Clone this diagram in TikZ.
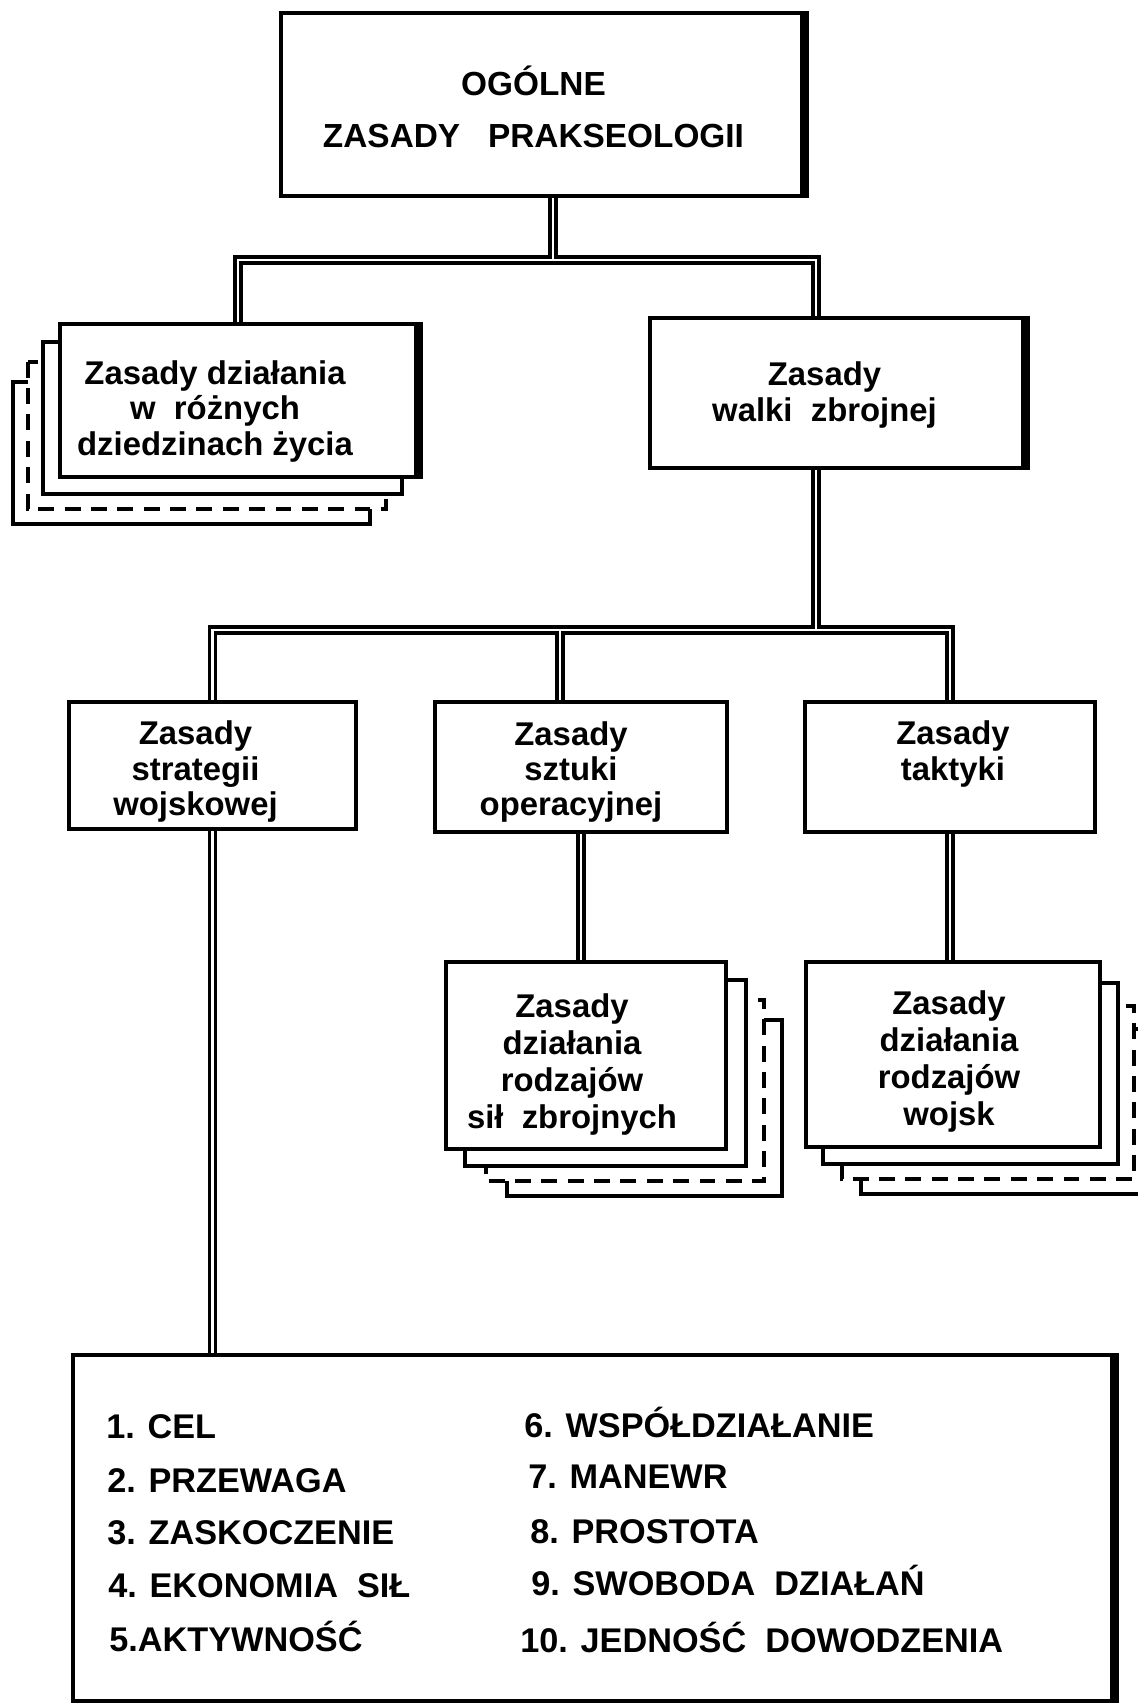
\documentclass[tikz,border=0pt]{standalone}
\usepackage{fontspec}
\setmainfont{Liberation Sans}
\usetikzlibrary{calc,positioning,backgrounds}

\tikzset{
  box/.style={draw, line width=2.6pt, fill=white, inner sep=0pt},
  txt/.style={align=center, inner sep=0pt, font=\fontsize{18.7}{20}\selectfont\bfseries},
  tall/.style={font=\fontsize{18.7}{21}\selectfont\bfseries},
  layer/.style={draw, line width=2.4pt, fill=white},
  brokenline/.style={dash pattern=on 9pt off 6pt},
  link/.style={double, line width=1.9pt, double distance=1.6pt},
  edge/.style={line width=5pt},
  item/.style={inner sep=0pt, anchor=base west, font=\fontsize{19.5}{20}\selectfont\bfseries},
}

\begin{document}
\begin{tikzpicture}[x=0.02cm,y=-0.02cm]
	\useasboundingbox (0,0) rectangle (1138,1706);
	% poziom 1
	\node[box, minimum width=10.42cm, minimum height=3.66cm] (ogolne) at (541.5,104.5) {};
	\node[txt, font=\fontsize{19}{29.6}\selectfont\bfseries] (ogolne-t) at (533.5,106.5) {OGÓLNE\\ZASADY~~~PRAKSEOLOGII};
	% poziom 2
	\node[box, minimum width=7.12cm, minimum height=3.06cm] (dzialania) at (238,400.5) {};
	\node[txt] (dzialania-t) at (215,411.5) {Zasady działania\\w~~różnych\\dziedzinach życia};
	\node[box, minimum width=7.46cm, minimum height=3cm] (walka) at (836.5,393) {};
	\node[txt] (walka-t) at (824.5,395) {Zasady\\walki~~zbrojnej};
	% poziom 3
	\node[box, minimum width=5.74cm, minimum height=2.54cm] (strategia) at (212.5,765.5) {};
	\node[txt] (strategia-t) at (195.5,771.5) {Zasady\\strategii\\wojskowej};
	\node[box, minimum width=5.84cm, minimum height=2.6cm] (operacyjna) at (581,767) {};
	\node[txt] (operacyjna-t) at (571,772) {Zasady\\sztuki\\operacyjnej};
	\node[box, minimum width=5.8cm, minimum height=2.6cm] (taktyka) at (950,767) {};
	\node[txt] (taktyka-t) at (953,754) {Zasady\\taktyki};
	% poziom 4
	\node[box, minimum width=5.6cm, minimum height=3.74cm] (sily) at (586,1055.5) {};
	\node[txt, tall] (sily-t) at (572,1064.5) {Zasady\\działania\\rodzajów\\sił~~zbrojnych};
	\node[box, minimum width=5.88cm, minimum height=3.7cm] (wojska) at (953,1054.5) {};
	\node[txt, tall] (wojska-t) at (949,1061.5) {Zasady\\działania\\rodzajów\\wojsk};
	% lista zasad
	\node[box, minimum width=20.78cm, minimum height=6.92cm] (lista) at (592.5,1528) {};
	\foreach \i/\txt/\x/\y in {1/{1. CEL}/106/1438, 2/{2. PRZEWAGA}/107/1492, 3/{3. ZASKOCZENIE}/107/1544,
		4/{4. EKONOMIA~~SIŁ}/108/1597, 5/{5.AKTYWNOŚĆ}/109/1651,
		6/{6. WSPÓŁDZIAŁANIE}/524/1437, 7/{7. MANEWR}/528/1488, 8/{8. PROSTOTA}/530/1543,
		9/{9. SWOBODA~~DZIAŁAŃ}/531/1595, 10/{10. JEDNOŚĆ~~DOWODZENIA}/520/1652}
		\node[item] (l\i) at (\x,\y) {\txt};
	% warstwy pod spodem
	\begin{scope}[on background layer]
		\foreach \k/\d in {3/solid,2/brokenline,1/solid}{
			\draw[layer,\d] ($(dzialania.north west)+(-15*\k,20*\k)$) rectangle ($(dzialania.south east)+(-16*\k,15*\k)$);
			\draw[layer,\d] ($(sily.north west)+(21*\k,20*\k)$) rectangle ($(sily.south east)+(18*\k,15*\k)$);
			\draw[layer,\d] ($(wojska.north west)+(19*\k,23*\k)$) rectangle ($(wojska.south east)+(16*\k,15*\k)$);
		}
	\end{scope}
	% grube krawedzie
	\foreach \n in {ogolne,dzialania,walka,lista}
		\draw[edge] (\n.north east) -- (\n.south east);
	% polaczenia
	\coordinate (j1) at (553,260);
	\coordinate (j2) at (816,630);
	\coordinate (j3) at (560,630);
	\draw[link] (ogolne.south -| j1) -- (j1)
		(dzialania.north) |- (j1) -| (walka.north -| j2);
	\draw[link] (walka.south -| j2) -- (j2)
		(strategia.north) |- (j2) -| (taktyka.north)
		(operacyjna.north -| j3) -- (j3);
	\draw[link] (operacyjna.south) -- (operacyjna.south |- sily.north);
	\draw[link] (taktyka.south) -- (taktyka.south |- wojska.north);
	\draw[link] (strategia.south) -- (strategia.south |- lista.north);
\end{tikzpicture}
\end{document}
